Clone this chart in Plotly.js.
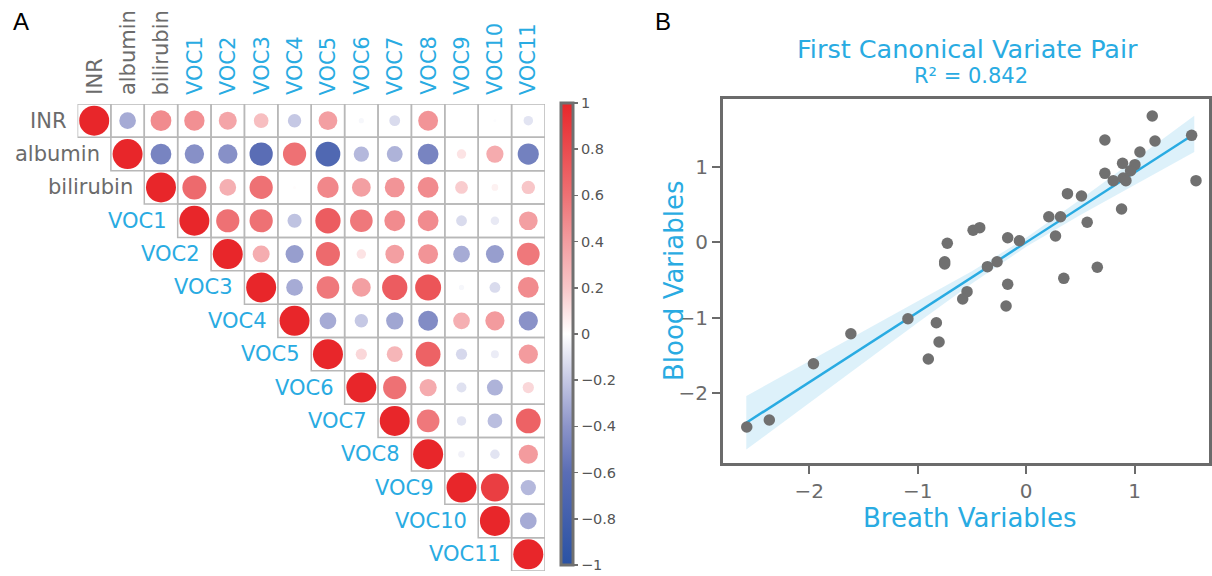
<!DOCTYPE html>
<html>
<head>
<meta charset="utf-8">
<script src="https://cdn.plot.ly/plotly-3.0.1.min.js"></script>
<style>html,body{margin:0;padding:0;background:#fff;}#chart{width:1212px;height:576px;}</style>
</head>
<body>
<div id="chart"></div>
<script>
// ---------- Panel A data: correlation matrix (upper triangle, row i holds columns i..13)
const variables = ["INR","albumin","bilirubin","VOC1","VOC2","VOC3","VOC4","VOC5","VOC6","VOC7","VOC8","VOC9","VOC10","VOC11"];
const rowINR       = [1, -0.31, 0.48, 0.46, 0.36, 0.24, -0.20, 0.39, -0.03, -0.13, 0.44, 0.00, -0.01, -0.10];
const rowAlbumin   = [1, -0.48, -0.42, -0.42, -0.60, 0.60, -0.68, -0.26, -0.28, -0.48, 0.10, 0.33, -0.50];
const rowBilirubin = [1, 0.64, 0.31, 0.60, 0.01, 0.50, 0.39, 0.44, 0.48, 0.18, 0.05, 0.20];
const rowVOC1      = [1, 0.60, 0.60, -0.22, 0.71, 0.57, 0.48, 0.48, -0.13, -0.08, 0.39];
const rowVOC2      = [1, 0.32, -0.36, 0.64, 0.10, 0.39, 0.44, -0.31, -0.36, 0.57];
const rowVOC3      = [1, -0.31, 0.57, 0.39, 0.71, 0.75, -0.03, -0.13, 0.48];
const rowVOC4      = [1, -0.31, -0.20, -0.33, -0.44, 0.31, 0.41, -0.41];
const rowVOC5      = [1, 0.14, 0.28, 0.68, -0.14, -0.07, 0.41];
const rowVOC6      = [1, 0.60, 0.33, -0.11, -0.28, 0.14];
const rowVOC7      = [1, 0.57, -0.10, -0.24, 0.68];
const rowVOC8      = [1, -0.05, -0.10, 0.41];
const rowVOC9      = [1, 0.87, -0.26];
const rowVOC10     = [1, -0.31];
const rowVOC11     = [1];
const colorbarTicks = [-1,-0.8,-0.6,-0.4,-0.2,0,0.2,0.4,0.6,0.8,1];

// ---------- Panel B data: canonical variate scores
const breathScores = [1.163,0.726,1.188,1.526,1.049,0.726,0.889,1.003,0.963,0.803,0.895,0.920,1.566,0.880,0.381,0.510,0.209,0.317,0.563,0.271,-0.062,-0.170,-0.489,-0.428,-0.727,-0.751,-0.751,-0.268,-0.357,0.656,0.347,-0.170,-0.545,-0.585,-0.185,-1.090,-0.828,-0.803,-0.902,-1.616,-1.961,-2.368,-2.576];
const bloodScores  = [1.673,1.355,1.342,1.417,1.196,0.913,1.046,1.028,0.949,0.816,0.852,0.816,0.816,0.441,0.644,0.613,0.339,0.339,0.265,0.083,0.021,0.061,0.159,0.194,-0.013,-0.257,-0.287,-0.257,-0.323,-0.331,-0.477,-0.556,-0.654,-0.751,-0.844,-1.012,-1.065,-1.321,-1.546,-1.211,-1.608,-2.354,-2.446];
const fitX     = [-2.58,-2.0,-1.5,-1.0,-0.5,0.0,0.5,1.0,1.55];
const fitY     = [-2.390,-1.852,-1.389,-0.926,-0.463,0.000,0.463,0.926,1.435];
const bandUpper= [-2.035,-1.577,-1.183,-0.786,-0.382,0.060,0.566,1.092,1.675];
const bandLower= [-2.745,-2.127,-1.595,-1.066,-0.544,-0.060,0.360,0.760,1.195];
const titleText = "First Canonical Variate Pair";
const r2Text = "R² = 0.842";

const matrixRows = [rowINR,rowAlbumin,rowBilirubin,rowVOC1,rowVOC2,rowVOC3,rowVOC4,rowVOC5,rowVOC6,rowVOC7,rowVOC8,rowVOC9,rowVOC10,rowVOC11];

const W = 1212, H = 576;
const px = v => v / W, py = v => 1 - v / H;
const FONT = "DejaVu Sans";
const GRAY = "#6b6b6b", BLUE = "#29abe2";

const colorscale = [
  [0.0,'#2a52a4'],[0.2,'#5a6db5'],[0.3,'#8c94c9'],[0.4,'#c5c8e4'],[0.5,'#ffffff'],
  [0.6,'#f8c6c8'],[0.7,'#f39da0'],[0.8,'#ee7174'],[1.0,'#e8262a']
];

// circles
const cx = [], cy = [], cv = [], cs = [];
const shapes = [];
matrixRows.forEach((row, i) => {
  row.forEach((v, k) => {
    const j = i + k;
    cx.push(j); cy.push(i); cv.push(v); cs.push(30 * Math.sqrt(Math.abs(v)));
    shapes.push({type:'rect', xref:'x2', yref:'y2', x0:j-0.5, x1:j+0.5, y0:i-0.5, y1:i+0.5,
                 line:{color:'#b8b8b8', width:1.5}, fillcolor:'rgba(0,0,0,0)', layer:'below'});
  });
});

const annotations = [];
variables.forEach((name, i) => {
  const col = i < 3 ? GRAY : BLUE;
  annotations.push({xref:'x2', yref:'y2', x:i-0.5, y:i, text:name, showarrow:false,
    xanchor:'right', yanchor:'middle', xshift:-9, font:{family:FONT, size:21, color:col}});
  annotations.push({xref:'x2', yref:'y2', x:i, y:-0.5, text:name, showarrow:false, textangle:-90,
    xanchor:'center', yanchor:'bottom', yshift:7, font:{family:FONT, size:21, color:col}});
});
annotations.push({xref:'paper', yref:'paper', x:px(11), y:py(21), text:'A', showarrow:false,
  xanchor:'left', yanchor:'middle', font:{family:'Liberation Sans', size:24, color:'#000'}});
annotations.push({xref:'paper', yref:'paper', x:px(653), y:py(21), text:'B', showarrow:false,
  xanchor:'left', yanchor:'middle', font:{family:'Liberation Sans', size:24, color:'#000'}});
annotations.push({xref:'paper', yref:'paper', x:px(967), y:py(49), text:titleText, showarrow:false,
  xanchor:'center', yanchor:'middle', font:{family:FONT, size:25.5, color:BLUE}});
annotations.push({xref:'paper', yref:'paper', x:px(971), y:py(76), text:r2Text, showarrow:false,
  xanchor:'center', yanchor:'middle', font:{family:FONT, size:21, color:BLUE}});
annotations.push({xref:'paper', yref:'paper', x:px(970), y:py(518), text:'Breath Variables', showarrow:false,
  xanchor:'center', yanchor:'middle', font:{family:FONT, size:26, color:BLUE}});
annotations.push({xref:'paper', yref:'paper', x:px(674), y:py(281), text:'Blood Variables', showarrow:false,
  textangle:-90, xanchor:'center', yanchor:'middle', font:{family:FONT, size:26, color:BLUE}});

const traces = [
  {type:'scatter', mode:'markers', x:cx, y:cy, xaxis:'x2', yaxis:'y2', hoverinfo:'skip',
   marker:{size:cs, sizemode:'diameter', opacity:1, color:cv, cmin:-1, cmax:1, colorscale:colorscale, line:{width:0},
     showscale:true,
     colorbar:{x:px(561), xanchor:'left', xpad:0, ypad:0, y:py(334), yanchor:'middle', len:462, lenmode:'pixels',
       thickness:12, outlinewidth:3, outlinecolor:'#707070', ticks:'outside', ticklen:4, tickwidth:1.5, tickcolor:'#707070',
       ticklabeloverflow:'allow',
       tickvals:colorbarTicks, tickfont:{family:FONT, size:14.5, color:'#555'}}}},
  {type:'scatter', mode:'lines', x:fitX, y:bandLower, line:{width:0}, hoverinfo:'skip'},
  {type:'scatter', mode:'lines', x:fitX, y:bandUpper, line:{width:0}, fill:'tonexty', fillcolor:'rgba(41,171,226,0.16)', hoverinfo:'skip'},
  {type:'scatter', mode:'lines', x:fitX, y:fitY, line:{color:BLUE, width:2.5}, hoverinfo:'skip'},
  {type:'scatter', mode:'markers', x:breathScores, y:bloodScores, marker:{size:11.5, color:'#707070', opacity:1}}
];

const axisCommon = {showgrid:false, zeroline:false, showline:true, mirror:true, linecolor:GRAY, linewidth:3,
  ticks:'outside', ticklen:8, tickwidth:2, tickcolor:GRAY, tickfont:{family:FONT, size:20, color:GRAY}};

const layout = {
  width:W, height:H, margin:{l:0,r:0,t:0,b:0}, paper_bgcolor:'#fff', plot_bgcolor:'rgba(0,0,0,0)',
  showlegend:false,
  xaxis: Object.assign({domain:[px(723), px(1209)], range:[-2.795,1.686], tickvals:[-2,-1,0,1], anchor:'y'}, axisCommon),
  yaxis: Object.assign({domain:[py(463), py(99)], range:[-2.923,1.898], tickvals:[-2,-1,0,1], anchor:'x'}, axisCommon),
  xaxis2:{domain:[px(77.5), px(545)], range:[-0.5,13.5], visible:false, anchor:'y2', fixedrange:true},
  yaxis2:{domain:[py(571), py(104)], range:[13.5,-0.5], visible:false, anchor:'x2', fixedrange:true},
  shapes:shapes, annotations:annotations
};

Plotly.newPlot('chart', traces, layout, {displayModeBar:false, staticPlot:true});
</script>
</body>
</html>
